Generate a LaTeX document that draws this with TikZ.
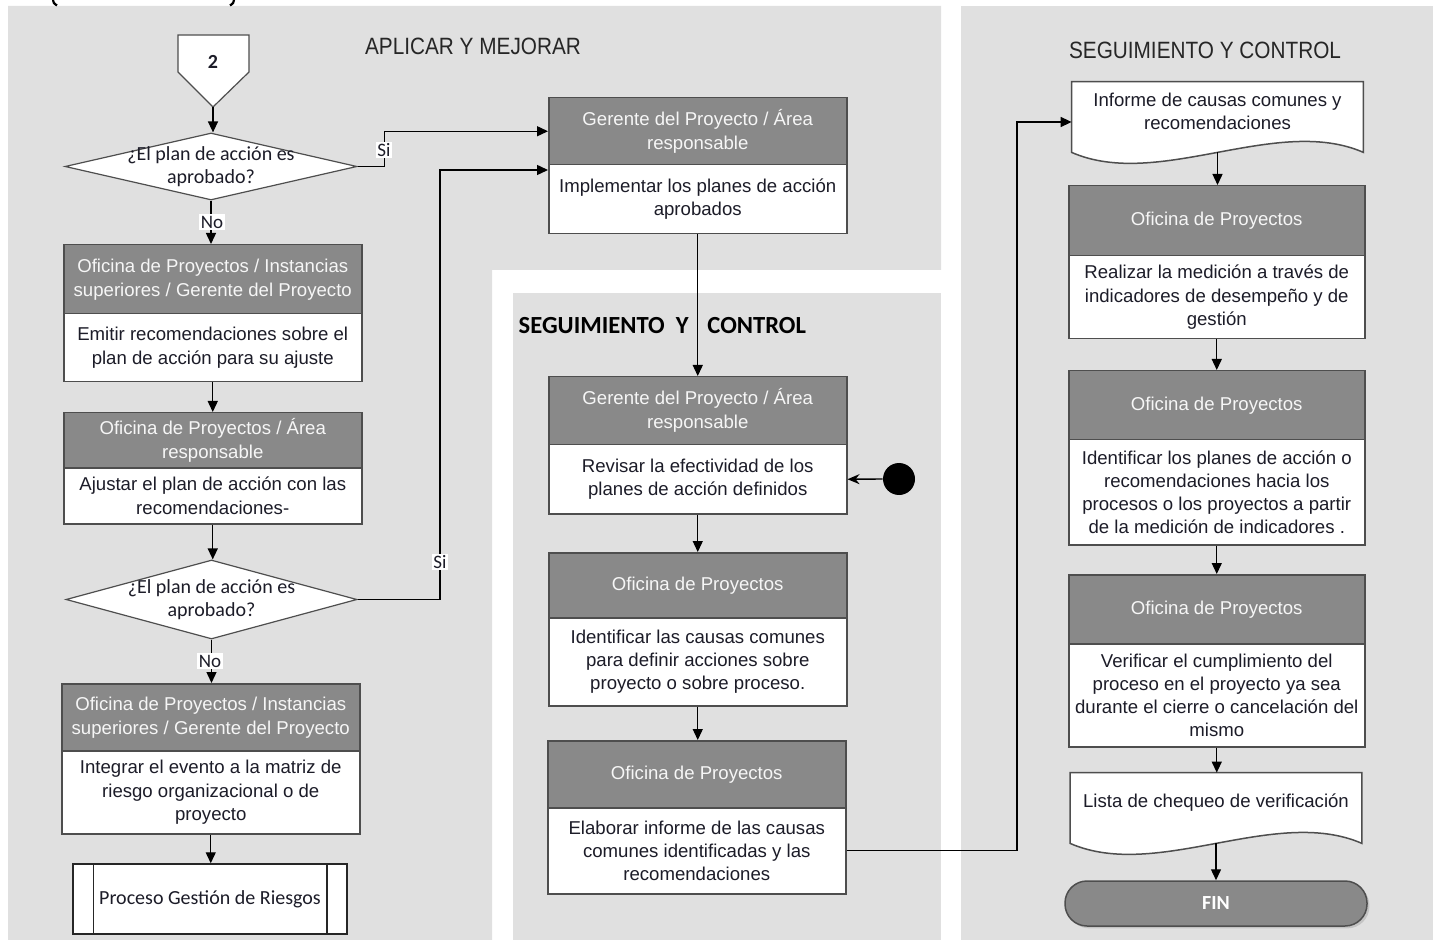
\documentclass[tikz,border=0pt]{standalone}
\usepackage{fontspec}
\setmainfont{Liberation Sans}
\newfontfamily\calfont{Carlito}
\usetikzlibrary{arrows.meta,shapes.geometric,calc,shadows}

\definecolor{panel}{RGB}{224,224,224}
\definecolor{hdrfill}{RGB}{137,137,137}
\definecolor{edge}{RGB}{78,78,78}
\definecolor{ink}{RGB}{28,28,40}
\definecolor{hdrtext}{RGB}{246,246,246}

\tikzset{
  hdr/.style={draw=edge, line width=0.75pt, fill=hdrfill, text=hdrtext, inner sep=0pt,
    align=center, anchor=north west, font=\fontsize{9.3}{12}\selectfont},
  bdy/.style={draw=edge, line width=0.75pt, fill=white, text=ink, inner sep=0pt,
    align=center, anchor=north west, font=\fontsize{9.3}{11.6}\selectfont},
  flow/.style={line width=0.7pt, -{Triangle[length=5.5pt,width=5pt]}},
  tag/.style={fill=white, inner sep=0.8pt, text=ink, font=\calfont\fontsize{9.5}{11}\selectfont},
  dia/.style={diamond, draw=edge, line width=0.6pt, fill=white, inner sep=0pt},
  diatext/.style={align=center, text=ink, inner sep=0pt, font=\calfont\fontsize{10}{11.5}\selectfont},
  doctext/.style={align=center, text=ink, inner sep=0pt, font=\fontsize{9.3}{11.6}\selectfont},
  docframe/.style={draw=edge, line width=0.75pt, fill=white},
  lanetitle/.style={text=black!85, inner sep=0pt, font=\fontsize{11.8}{14}\selectfont},
}

% two-part activity box: name, x-left, x-right, y-top, y-split, y-bottom, role, task
\newcommand\twobox[8]{%
  \pgfmathsetmacro\bxw{(#3-#2)*0.5}%
  \pgfmathsetmacro\bxh{(#5-#4)*0.5}%
  \pgfmathsetmacro\bxb{(#6-#5)*0.5}%
  \node[hdr, minimum width=\bxw pt, minimum height=\bxh pt] (#1h) at (#2,#4) {#7};
  \node[bdy, minimum width=\bxw pt, minimum height=\bxb pt] (#1b) at (#2,#5) {#8};
}

\begin{document}
\begin{tikzpicture}[x=0.5pt, y=-0.5pt]
\useasboundingbox[fill=white] (0,0) rectangle (1433,940);

% lanes
\fill[panel] (8,6) -- (941,6) -- (941,270) -- (492,270) -- (492,940) -- (8,940) -- cycle;
\fill[panel] (513,293) rectangle (941,940);
\fill[panel] (961,6) rectangle (1433,940);

% cut-off brackets along the upper border
\draw[line width=1.1pt] (53,0) .. controls (53.5,3) .. (57,5.5);
\draw[line width=1.1pt] (234,0) .. controls (233.5,3) .. (230,5.5);

% lane titles
\node[lanetitle] (t1) at (473,46) {\scalebox{0.88}[1]{APLICAR Y MEJORAR}};
\node[lanetitle] (t3) at (1205,50) {\scalebox{0.88}[1]{SEGUIMIENTO Y CONTROL}};
\node[anchor=east, inner sep=0pt, text=black, font=\calfont\bfseries\fontsize{12.3}{14}\selectfont] (t2a) at (689,326) {SEGUIMIENTO\ \ Y};
\node[anchor=west, inner sep=0pt, text=black, font=\calfont\bfseries\fontsize{12.3}{14}\selectfont] (t2b) at (707,326) {CONTROL};

% off-page connector
\filldraw[draw=edge, line width=0.6pt, fill=white] (178,35) -- (249,35) -- (249,72) -- (213,107) -- (178,72) -- cycle;
\node[inner sep=0pt, text=ink, font=\calfont\bfseries\fontsize{10}{12}\selectfont] (offp) at (213,62) {2};
\coordinate (offtip) at (213,107);

% decisions
\node[dia, minimum width=146pt, minimum height=33.5pt] (da) at (211,166.5) {};
\node[diatext] (dat) at (da.center) {¿El plan de acción es\\aprobado?};
\node[dia, minimum width=145.5pt, minimum height=39.5pt] (db) at (211.5,599.5) {};
\node[diatext] (dbt) at (db.center) {¿El plan de acción es\\aprobado?};

% left lane activities
\twobox{aa}{63}{361}{244}{313}{381}{Oficina de Proyectos / Instancias\\superiores / Gerente del Proyecto}{Emitir recomendaciones sobre el\\plan de acción para su ajuste}
\twobox{ab}{63}{361}{412}{467}{523}{Oficina de Proyectos / Área\\responsable}{Ajustar el plan de acción con las\\recomendaciones-}
\twobox{ac}{61}{359}{683}{750}{833}{Oficina de Proyectos / Instancias\\superiores / Gerente del Proyecto}{Integrar el evento a la matriz de\\riesgo organizacional o de\\proyecto}

% predefined process
\node[draw=black!85, line width=0.75pt, fill=white, minimum width=137pt, minimum height=35pt,
  inner sep=0pt, text=ink, font=\calfont\fontsize{10}{12}\selectfont] (pr) at (210,899) {Proceso Gestión de Riesgos};
\draw[black!85, line width=0.75pt] ($(pr.north west)+(21,0)$) -- ($(pr.south west)+(21,0)$);
\draw[black!85, line width=0.75pt] ($(pr.north east)+(-21,0)$) -- ($(pr.south east)+(-21,0)$);

% middle activities
\twobox{ba}{548}{846}{97}{164}{233}{Gerente del Proyecto / Área\\responsable}{Implementar los planes de acción\\aprobados}
\twobox{bb}{548}{846}{376}{444}{513}{Gerente del Proyecto / Área\\responsable}{Revisar la efectividad de los\\planes de acción definidos}
\twobox{bc}{548}{846}{552}{617}{705}{Oficina de Proyectos}{Identificar las causas comunes\\para definir acciones sobre\\proyecto o sobre proceso.}
\twobox{bd}{547}{845}{740}{807}{893}{Oficina de Proyectos}{Elaborar informe de las causas\\comunes identificadas y las\\recomendaciones}

% start point
\node[circle, fill=black, minimum size=16pt, inner sep=0pt] (dot) at (899,479) {};

% right lane
\node[inner sep=0pt, minimum width=145.5pt, minimum height=35pt] (doca) at (1217.5,117) {};
\filldraw[docframe] (doca.south west) -- (doca.north west) -- (doca.north east) -- (doca.south east)
  .. controls ($(doca.south east)+(-87,-38)$) and ($(doca.south west)+(87,38)$) .. (doca.south west) -- cycle;
\node[doctext] (docat) at (1217.5,111) {Informe de causas comunes y\\recomendaciones};

\twobox{ca}{1068}{1364}{185}{255}{338}{Oficina de Proyectos}{Realizar la medición a través de\\indicadores de desempeño y de\\gestión}
\twobox{cb}{1068}{1364}{370}{439}{544}{Oficina de Proyectos}{Identificar los planes de acción o\\recomendaciones hacia los\\procesos o los proyectos a partir\\de la medición de indicadores .}
\twobox{cc}{1068}{1364}{574}{643}{746}{Oficina de Proyectos}{Verificar el cumplimiento del\\proceso en el proyecto ya sea\\durante el cierre o cancelación del\\mismo}

\node[inner sep=0pt, minimum width=145.5pt, minimum height=35pt] (docb) at (1216,808) {};
\filldraw[docframe] (docb.south west) -- (docb.north west) -- (docb.north east) -- (docb.south east)
  .. controls ($(docb.south east)+(-87,-38)$) and ($(docb.south west)+(87,38)$) .. (docb.south west) -- cycle;
\node[doctext] (docbt) at (1216,803) {Lista de chequeo de verificación};

\node[draw=edge, line width=0.75pt, fill=hdrfill, rounded corners=11pt, minimum width=151pt, minimum height=22.5pt,
  inner sep=0pt, text=white, font=\calfont\bfseries\fontsize{10}{12}\selectfont,
  drop shadow={shadow xshift=1.2pt, shadow yshift=-1.2pt, fill=black, opacity=0.12}] (fin) at (1216,903.5) {FIN};

% connectors: left lane
\draw[flow] (offtip) -- (offtip |- da.north);
\draw[flow] (da.south) -- (da.south |- aah.north);
\node[tag] (no1) at (212,222) {No};
\draw[flow] (da.east) -- ++(27,0) |- (bah.west);
\node[tag] (si1) at (384,150) {Si};
\draw[flow] (aab.south) -- (aab.south |- abh.north);
\draw[flow] (abb.south) -- (abb.south |- db.north);
\coordinate (jb) at (440,170);
\draw[flow] (db.east) -| (jb) -- (bab.west |- jb);
\node[tag] (si2) at (440,562) {Si};
\draw[flow] (db.south) -- (db.south |- ach.north);
\node[tag] (no2) at (210,661) {No};
\draw[flow] (acb.south) -- (acb.south |- pr.north);

% connectors: middle lane
\draw[flow] (bab.south) -- (bab.south |- bbh.north);
\draw[line width=0.7pt, -{Stealth[length=6pt,width=5pt]}] (dot.west) -- (bbb.east);
\draw[flow] (bbb.south) -- (bbb.south |- bch.north);
\draw[flow] (bcb.south) -- (bcb.south |- bdh.north);
\coordinate (jc) at (1017,122);
\draw[flow] (bdb.east) -| (jc) -- (doca.west |- jc);

% connectors: right lane
\draw[flow] (doca.south) -- (doca.south |- cah.north);
\draw[flow] (cab.south) -- (cab.south |- cbh.north);
\draw[flow] (cbb.south) -- (cbb.south |- cch.north);
\draw[flow] (ccb.south) -- (ccb.south |- docb.north);
\draw[flow] (docb.south) -- (docb.south |- fin.north);
\end{tikzpicture}
\end{document}
